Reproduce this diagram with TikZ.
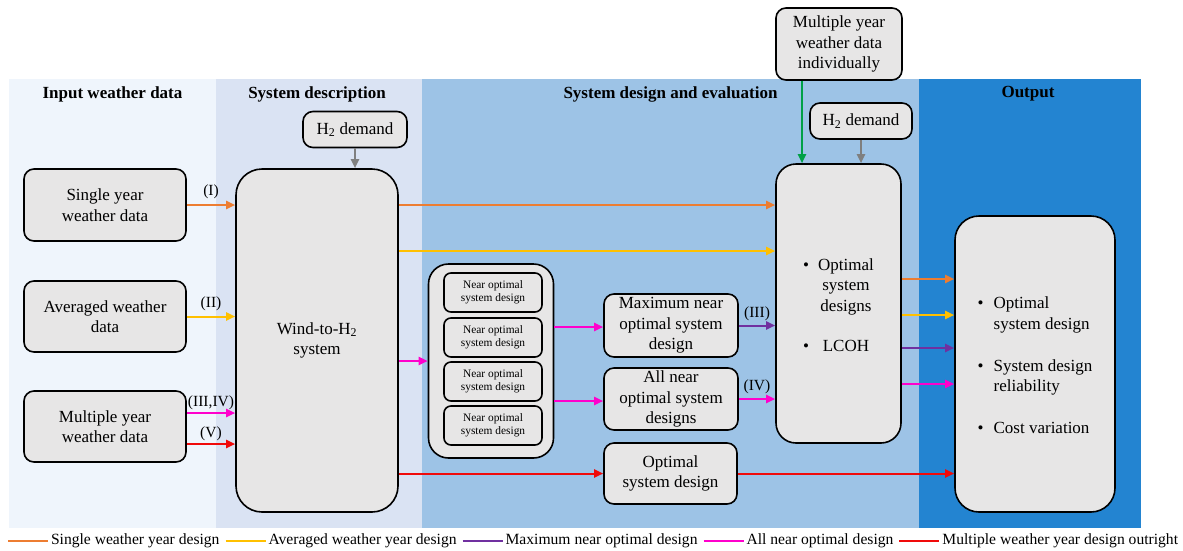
\documentclass[tikz,border=0pt]{standalone}
\usepackage{fontspec}
\setmainfont{Liberation Serif}
\usetikzlibrary{positioning}
\usetikzlibrary{calc}
\usetikzlibrary{arrows.meta}
\definecolor{orange}{RGB}{237,125,49}
\definecolor{yellow}{RGB}{255,192,0}
\definecolor{purple}{RGB}{112,48,160}
\definecolor{magenta}{RGB}{255,0,204}
\definecolor{red}{RGB}{240,10,10}
\definecolor{green}{RGB}{0,160,70}
\definecolor{gray}{RGB}{127,127,127}
\definecolor{boxgray}{RGB}{231,230,230}
\definecolor{panelA}{RGB}{239,245,252}
\definecolor{panelB}{RGB}{218,227,243}
\definecolor{panelC}{RGB}{157,195,230}
\definecolor{panelD}{RGB}{35,132,209}

\begin{document}
\begin{tikzpicture}[x=1pt, y=-1pt,
		box/.style={draw=black, line width=1.6pt, fill=boxgray, rounded corners=10pt, align=center, inner sep=0pt, font=\fontsize{17}{20.5}\selectfont},
		smallbox/.style={box, rounded corners=7pt, minimum width=98, minimum height=39, font=\fontsize{11.4}{13}\selectfont},
		flow/.style={line width=2pt, -{Triangle[length=9pt,width=8pt]}},
		title/.style={font=\fontsize{17}{20}\selectfont\bfseries},
		tag/.style={text=black, font=\fontsize{15.5}{18}\selectfont, inner sep=1pt},
		legtext/.style={text=black, font=\fontsize{15.6}{18}\selectfont, inner sep=2pt, anchor=west}]
			\useasboundingbox (0,0) rectangle (1183,550);

			% Panels
			\fill[panelA] (9,79) rectangle (216,528);
			\fill[panelB] (216,79) rectangle (422,528);
			\fill[panelC] (422,79) rectangle (919,528);
			\fill[panelD] (919,79) rectangle (1141,528);
			\node[title] at (112.5,94) {Input weather data};
			\node[title] at (317,94) {System description};
			\node[title] at (670.5,94) {System design and evaluation};
			\node[title] at (1028,94) {Output};

			% Input weather data
			\node[box, minimum width=162, minimum height=72] (single) at (105,205) {Single year\\weather data};
			\node[box, minimum width=162, minimum height=71] (averaged) at (105,316.5) {Averaged weather\\data};
			\node[box, minimum width=162, minimum height=71] (multi) at (105,426.5) {Multiple year\\weather data};

			% System description
			\node[box, minimum width=104, minimum height=36] (demandA) at (355,129.5) {H\textsubscript{2} demand};
			\node[box, rounded corners=26pt, minimum width=162, minimum height=343] (wind) at (317,340.5) {Wind-to-H\textsubscript{2}\\system};

			% Near optimal designs
			\node[box, rounded corners=20pt, minimum width=125, minimum height=194] (near) at (491,361) {};
			\foreach \y [count=\i] in {292.5,337.5,381.5,425.5}
				\node[smallbox] (near\i) at (493,\y) {Near optimal\\system design};
			\node[box, minimum width=134, minimum height=63] (maxnear) at (671,325.5) {Maximum near\\optimal system\\design};
			\node[box, minimum width=134, minimum height=62] (allnear) at (671,399) {All near\\optimal system\\designs};
			\node[box, minimum width=133, minimum height=61] (optmid) at (670.5,473.5) {Optimal\\system design};

			% Evaluation
			\node[box, minimum width=126, minimum height=72] (indiv) at (839,44) {Multiple year\\weather data\\individually};
			\node[box, minimum width=102, minimum height=36] (demandB) at (861,121) {H\textsubscript{2} demand};
			\node[box, rounded corners=20pt, minimum width=125, minimum height=279] (opts) at (838.5,303.5)
				{\raisebox{-3pt}[\height][\depth]{\begin{tabular}{@{}c@{\hspace{9pt}}c@{}}
					\textbullet & Optimal\\ & system\\ & designs\\[19.5pt]
					\textbullet & LCOH
				\end{tabular}}};

			% Output
			\node[box, rounded corners=24pt, minimum width=160, minimum height=296] (result) at (1035,364)
				{\raisebox{-3pt}[\height][\depth]{\begin{tabular}{@{}c@{\hspace{10pt}}l@{}}
					\textbullet & Optimal\\ & system design\\[21.5pt]
					\textbullet & System design\\ & reliability\\[21.5pt]
					\textbullet & Cost variation
				\end{tabular}}};

			% Inputs into the system
			\draw[flow, gray] (demandA.south) -- (demandA.south |- wind.north);
			\draw[flow, orange] (single.east) -- (single.east -| wind.west) node[tag, midway, above=4pt] {(I)};
			\draw[flow, yellow] (averaged.east) -- (averaged.east -| wind.west) node[tag, midway, above=4pt] {(II)};
			\draw[flow, magenta] (multi.east |- 0,413) -- (wind.west |- 0,413) node[tag, midway, above=1pt] {(III,IV)};
			\draw[flow, red] (multi.east |- 0,444) -- (wind.west |- 0,444) node[tag, midway, above=1pt] {(V)};

			% Design routes
			\draw[flow, orange] (wind.east |- single.east) -- (opts.west |- single.east);
			\draw[flow, yellow] (wind.east |- 0,251) -- (opts.west |- 0,251);
			\draw[flow, magenta] (wind.east |- near.west) -- (near.west);
			\draw[flow, magenta] (near.east |- 0,327) -- (maxnear.west |- 0,327);
			\draw[flow, magenta] (near.east |- 0,401) -- (allnear.west |- 0,401);
			\draw[flow, purple] (maxnear.east) -- (maxnear.east -| opts.west) node[tag, midway, above=3pt] {(III)};
			\draw[flow, magenta] (allnear.east) -- (allnear.east -| opts.west) node[tag, midway, above=3pt] {(IV)};
			\draw[flow, red] (wind.east |- optmid.west) -- (optmid.west);
			\draw[flow, red] (optmid.east) -- (optmid.east -| result.west);
			\draw[flow, green] (indiv.south -| 802,0) -- (opts.north -| 802,0);
			\draw[flow, gray] (demandB.south) -- (demandB.south |- opts.north);

			% Evaluation into output
			\draw[flow, orange] (opts.east |- 0,279) -- (result.west |- 0,279);
			\draw[flow, yellow] (opts.east |- 0,315) -- (result.west |- 0,315);
			\draw[flow, purple] (opts.east |- 0,348) -- (result.west |- 0,348);
			\draw[flow, magenta] (opts.east |- 0,384) -- (result.west |- 0,384);

			% Legend
			\coordinate (leg0) at (8,541);
			\draw[line width=2pt, orange] (leg0) -- ++(40,0) node[legtext] (leg1) {Single weather year design};
			\draw[line width=2pt, yellow] ([xshift=3pt]leg1.east) -- ++(40,0) node[legtext] (leg2) {Averaged weather year design};
			\draw[line width=2pt, purple] ([xshift=3pt]leg2.east) -- ++(40,0) node[legtext] (leg3) {Maximum near optimal design};
			\draw[line width=2pt, magenta] ([xshift=3pt]leg3.east) -- ++(40,0) node[legtext] (leg4) {All near optimal design};
			\draw[line width=2pt, red] ([xshift=3pt]leg4.east) -- ++(40,0) node[legtext] (leg5) {Multiple weather year design outright};
		\end{tikzpicture}
\end{document}
